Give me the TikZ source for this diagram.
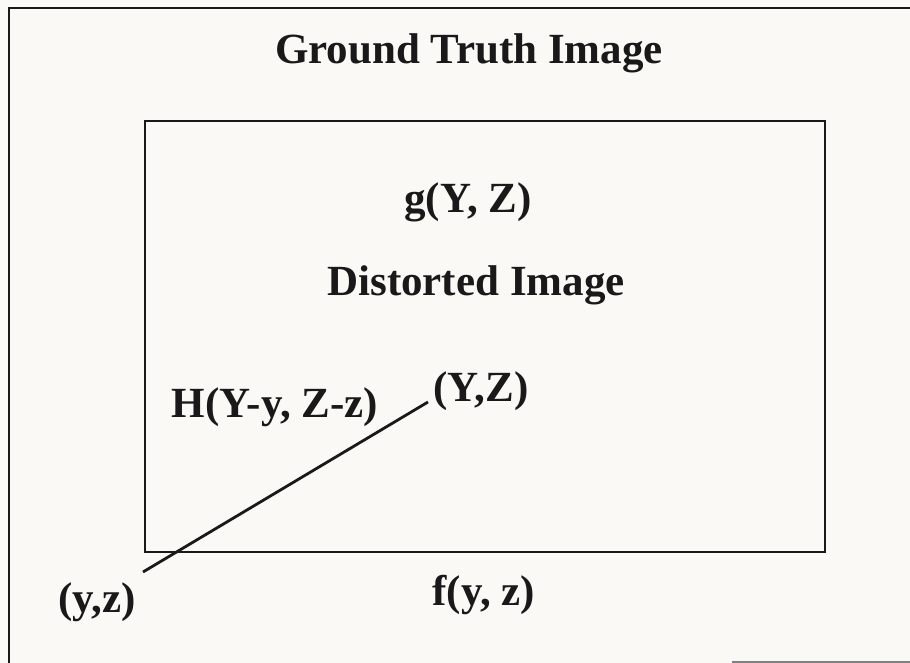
\documentclass[tikz,border=0pt]{standalone}
\usepackage{fontspec}
\setmainfont{Liberation Serif}
\definecolor{paper}{RGB}{250,249,246}
\definecolor{ink}{RGB}{25,25,25}
\begin{document}
\begin{tikzpicture}[x=1pt,y=-1pt,
  lbl/.style={anchor=base,inner sep=0pt,text=ink,font=\fontsize{43}{50}\selectfont\bfseries},
  frame/.style={draw=ink,line width=2.4pt},
  box/.style={draw=ink,line width=2.8pt},
  link/.style={draw=ink,line width=2.8pt}]
\fill[paper] (0,0) rectangle (910,663);
\useasboundingbox (0,0) rectangle (910,663);
% outer frame (partly cut off)
\draw[frame] (9,663) -- (9,8) -- (910,8);
\draw[draw=gray,line width=1.5pt] (732,662) -- (910,662);
% inner rectangle
\draw[box] (145,121) rectangle (825,552);
% labels
\node[lbl] (title) at (469,64) {Ground Truth Image};
\node[lbl] (g) at (468,213) {g(Y, Z)};
\node[lbl] (dist) at (476,295) {Distorted Image};
\node[lbl] (H) at (275,417) {H(Y-y, Z-z)};
\node[lbl] (YZ) at (481,401) {(Y,Z)};
\node[lbl] (yz) at (97,612) {(y,z)};
\node[lbl] (f) at (484,605) {f(y, z)};
% connector
\coordinate (p) at (143,572);
\coordinate (P) at (428,402);
\draw[link] (p) -- (P);
\end{tikzpicture}
\end{document}
